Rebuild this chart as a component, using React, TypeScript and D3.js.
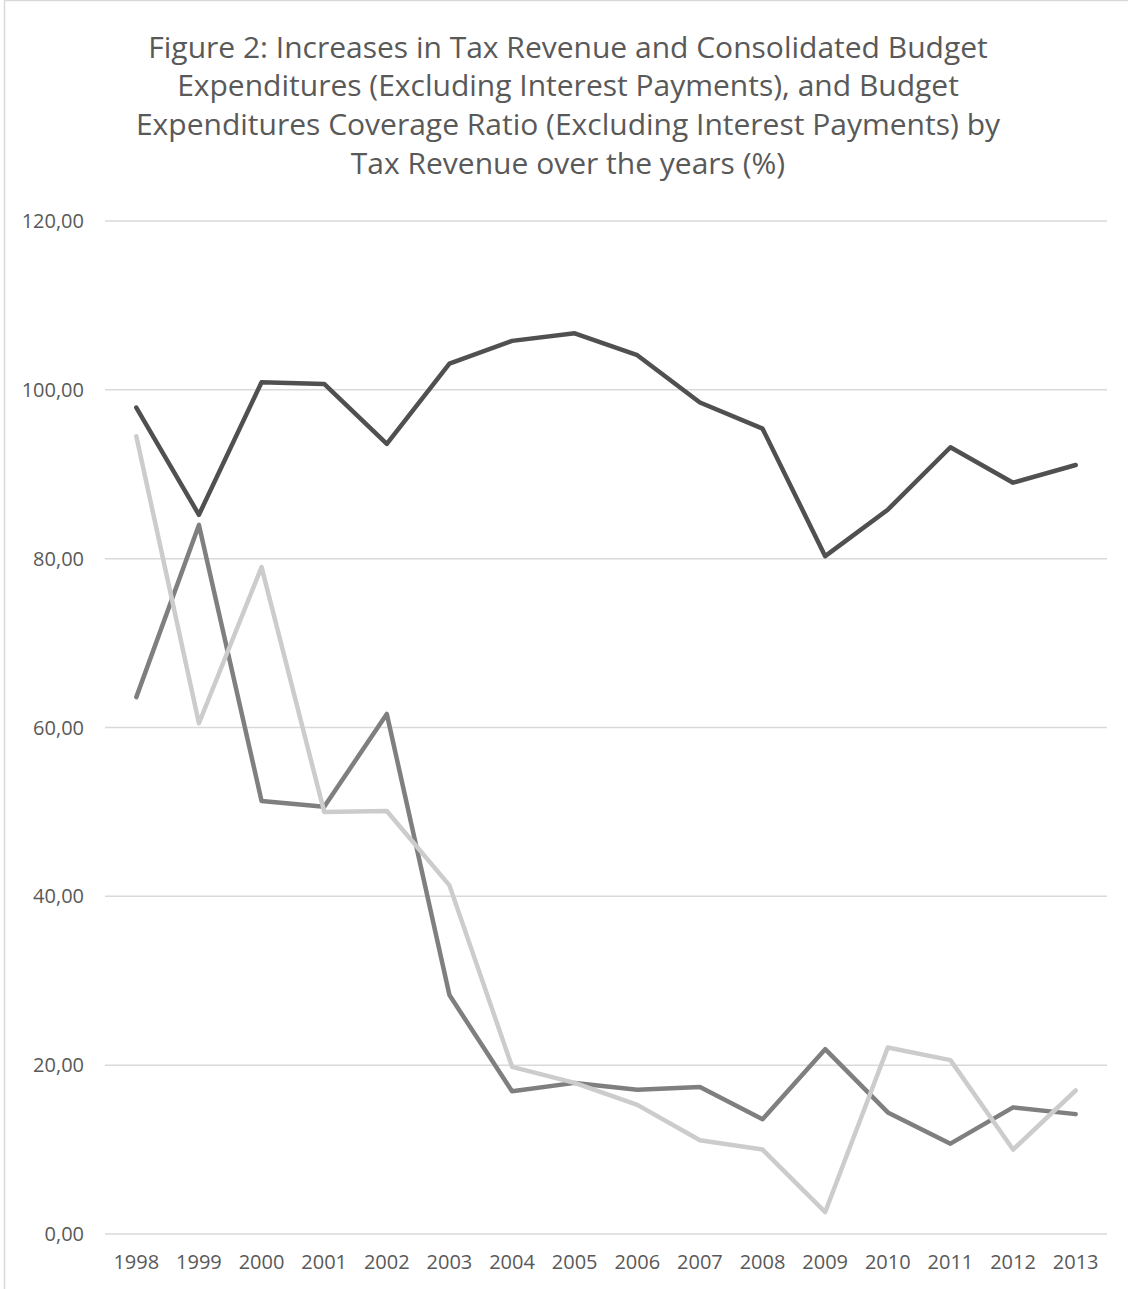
import React from "react";
import * as d3 from "d3";

const years = ["1998","1999","2000","2001","2002","2003","2004","2005","2006","2007","2008","2009","2010","2011","2012","2013"];
const coverageRatio = [97.9,85.2,100.9,100.7,93.6,103.1,105.8,106.7,104.1,98.5,95.4,80.3,85.8,93.2,89.0,91.1];
const taxRevenueIncrease = [63.6,84.0,51.3,50.6,61.6,28.3,16.9,17.9,17.1,17.4,13.6,21.9,14.4,10.7,15.0,14.2];
const expenditureIncrease = [94.5,60.5,79.0,50.0,50.1,41.3,19.8,17.9,15.3,11.1,10.0,2.6,22.1,20.6,10.0,17.0];
const yTicks = [0,20,40,60,80,100,120];
const titleLines = [
  "Figure 2: Increases in Tax Revenue and Consolidated Budget",
  "Expenditures (Excluding Interest Payments), and Budget",
  "Expenditures Coverage Ratio (Excluding Interest Payments) by",
  "Tax Revenue over the years (%)",
];

const W = 1128;
const H = 1289;

export default function App() {
  const x = d3.scaleBand<string>().domain(years).range([105, 1107]).padding(0);
  const y = d3.scaleLinear().domain([0, 120]).range([1234, 221]);
  const line = d3
    .line<number>()
    .x((_, i) => (x(years[i]) as number) + x.bandwidth() / 2)
    .y((d) => y(d));
  const series = [
    { data: coverageRatio, color: "#505050" },
    { data: taxRevenueIncrease, color: "#7f7f7f" },
    { data: expenditureIncrease, color: "#cccccc" },
  ];
  const font = "'Open Sans', 'Noto Sans', sans-serif";
  return (
    <svg width={W} height={H} style={{ position: "absolute", left: 0, top: 0, background: "#fff" }}>
      <rect x={0} y={0} width={W} height={H} fill="#fff" />
      <rect x={4.5} y={0.5} width={W + 10} height={H + 10} fill="#fff" stroke="#d9d9d9" strokeWidth={1.5} />
      {titleLines.map((t, i) => (
        <text key={i} x={568} y={47 + i * 38.7} dy="0.35em" textAnchor="middle" fontFamily={font} fontSize={30} fill="#595959">
          {t}
        </text>
      ))}
      {yTicks.map((t) => (
        <g key={t}>
          <line x1={105} x2={1107} y1={y(t)} y2={y(t)} stroke="#d9d9d9" strokeWidth={1.5} />
          <text x={84} y={y(t)} dy="0.35em" textAnchor="end" fontFamily={font} fontSize={20} fill="#595959">
            {d3.format(".2f")(t).replace(".", ",")}
          </text>
        </g>
      ))}
      {years.map((yr) => (
        <text key={yr} x={(x(yr) as number) + x.bandwidth() / 2} y={1262} dy="0.35em" textAnchor="middle" fontFamily={font} fontSize={20} fill="#595959">
          {yr}
        </text>
      ))}
      {series.map((s, i) => (
        <path key={i} d={line(s.data) || ""} fill="none" stroke={s.color} strokeWidth={4.5} strokeLinejoin="round" strokeLinecap="round" />
      ))}
    </svg>
  );
}
